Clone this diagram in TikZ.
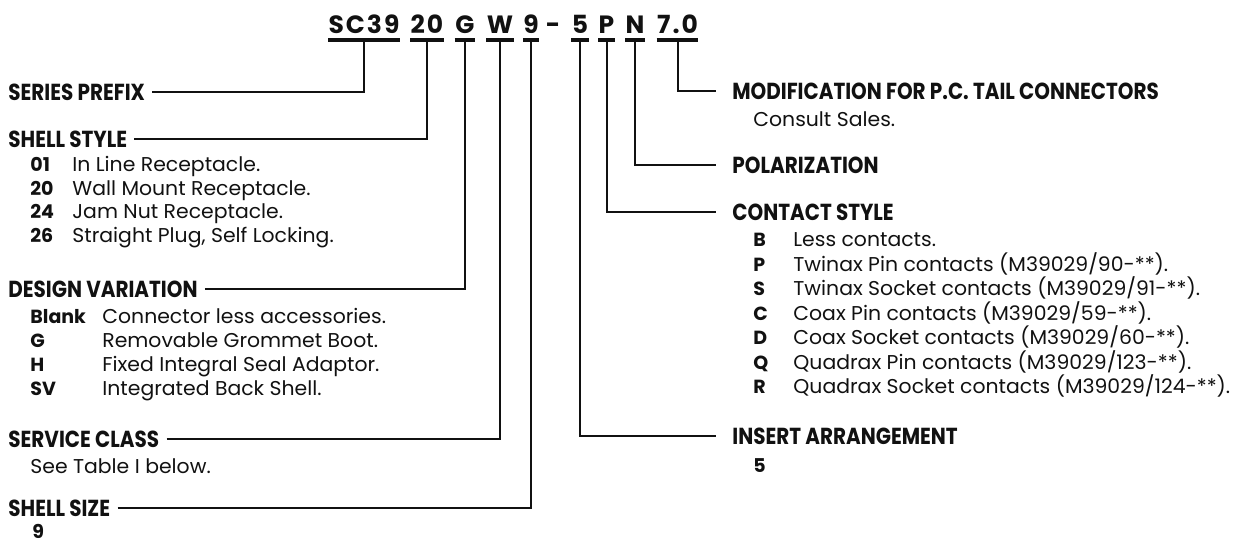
\documentclass[tikz,border=0pt]{standalone}
\usepackage{fontspec}
\setmainfont{Poppins}
\newfontfamily\headfont[FakeStretch=0.86]{Poppins}
\newfontfamily\bodyfont[FakeStretch=1.02]{Poppins}
\usetikzlibrary{calc}
\definecolor{Ink}{HTML}{111111}
\tikzset{
  seg/.style={anchor=base,inner sep=0pt,text=Ink,
    font=\fontsize{12.5}{14}\selectfont\bfseries\addfontfeature{LetterSpace=8}},
  bar/.style={draw=Ink,line width=2pt},
  lead/.style={draw=Ink,line width=1pt},
  head/.style={anchor=base west,inner xsep=3.5pt,inner ysep=0pt,text=Ink,
    font=\headfont\bfseries\fontsize{11.6}{13}\selectfont},
  headr/.style={head,inner xsep=8pt},
  keyl/.style={anchor=base west,inner sep=0pt,text=Ink,font=\bfseries\fontsize{9.5}{11}\selectfont},
  keyt/.style={anchor=base west,inner sep=0pt,text=Ink,font=\bodyfont\fontsize{10}{12}\selectfont},
}
\newcommand{\PartSeg}[4]{%
  \node[seg,minimum width=#3] (#1) at (#2,33) {#4};%
  \draw[bar] ($(#1.base west)+(0,7)$) -- ($(#1.base east)+(0,7)$);%
}
\newcommand{\KeyRow}[6]{%
  \node[keyl] (#1k) at (#3,#2) {#5};%
  \node[keyt] (#1t) at (#4,#2) {#6};%
}

\begin{document}
\begin{tikzpicture}[x=0.5pt,y=-0.5pt]
\useasboundingbox (0,0) rectangle (1235,543);
\PartSeg{pfx}{364}{34pt}{SC39}
\PartSeg{sty}{427}{15pt}{20}
\PartSeg{var}{465}{10pt}{G}
\PartSeg{cls}{500}{12pt}{W}
\PartSeg{siz}{531}{6pt}{9}
\node[seg] (dsh) at (553,33) {-};
\PartSeg{ins}{580}{7pt}{5}
\PartSeg{cst}{606.5}{5.5pt}{P}
\PartSeg{pol}{635}{8pt}{N}
\PartSeg{mod}{677.5}{19.5pt}{7.0}

\node[head] (pfxHd) at (1,100) {SERIES PREFIX};
\node[head] (styHd) at (1,147) {SHELL STYLE};
\KeyRow{s1}{171.5}{30}{72}{01}{In Line Receptacle.}
\KeyRow{s2}{195}{30}{72}{20}{Wall Mount Receptacle.}
\KeyRow{s3}{218.5}{30}{72}{24}{Jam Nut Receptacle.}
\KeyRow{s4}{242}{30}{72}{26}{Straight Plug, Self Locking.}
\node[head] (varHd) at (1,297) {DESIGN VARIATION};
\KeyRow{v1}{323.5}{30}{102}{Blank}{Connector less accessories.}
\KeyRow{v2}{347.5}{30}{102}{G}{Removable Grommet Boot.}
\KeyRow{v3}{371.5}{30}{102}{H}{Fixed Integral Seal Adaptor.}
\KeyRow{v4}{395.5}{30}{102}{SV}{Integrated Back Shell.}
\node[head] (clsHd) at (1,447) {SERVICE CLASS};
\node[keyt] (clsTx) at (30,473.5) {See Table I below.};
\node[head] (sizHd) at (1,516) {SHELL SIZE};
\node[keyl] (sizTx) at (32,538.5) {9};

\node[headr] (modHd) at (716,99.5) {MODIFICATION FOR P.C. TAIL CONNECTORS};
\node[keyt] (modTx) at (753,126.5) {Consult Sales.};
\node[headr] (polHd) at (716,173) {POLARIZATION};
\node[headr] (cstHd) at (716,220) {CONTACT STYLE};
\KeyRow{c1}{246.5}{753}{793}{B}{Less contacts.}
\KeyRow{c2}{271}{753}{793}{P}{Twinax Pin contacts (M39029/90-**).}
\KeyRow{c3}{295.5}{753}{793}{S}{Twinax Socket contacts (M39029/91-**).}
\KeyRow{c4}{320}{753}{793}{C}{Coax Pin contacts (M39029/59-**).}
\KeyRow{c5}{344.5}{753}{793}{D}{Coax Socket contacts (M39029/60-**).}
\KeyRow{c6}{369}{753}{793}{Q}{Quadrax Pin contacts (M39029/123-**).}
\KeyRow{c7}{393.5}{753}{793}{R}{Quadrax Socket contacts (M39029/124-**).}
\node[headr] (insHd) at (716,444) {INSERT ARRANGEMENT};
\node[keyl] (insTx) at (753,472.5) {5};

\draw[lead] (pfxHd.east) -| ($(pfx.base)+(0,7)$);
\draw[lead] (styHd.east) -| ($(sty.base)+(0,7)$);
\draw[lead] (varHd.east) -| ($(var.base)+(0,7)$);
\draw[lead] (clsHd.east) -| ($(cls.base)+(0,7)$);
\draw[lead] (sizHd.east) -| ($(siz.base)+(0,7)$);
\draw[lead] ($(mod.base)+(0,7)$) |- (modHd.west);
\draw[lead] ($(pol.base)+(0,7)$) |- (polHd.west);
\draw[lead] ($(cst.base)+(0,7)$) |- (cstHd.west);
\draw[lead] ($(ins.base)+(0,7)$) |- (insHd.west);
\end{tikzpicture}
\end{document}
